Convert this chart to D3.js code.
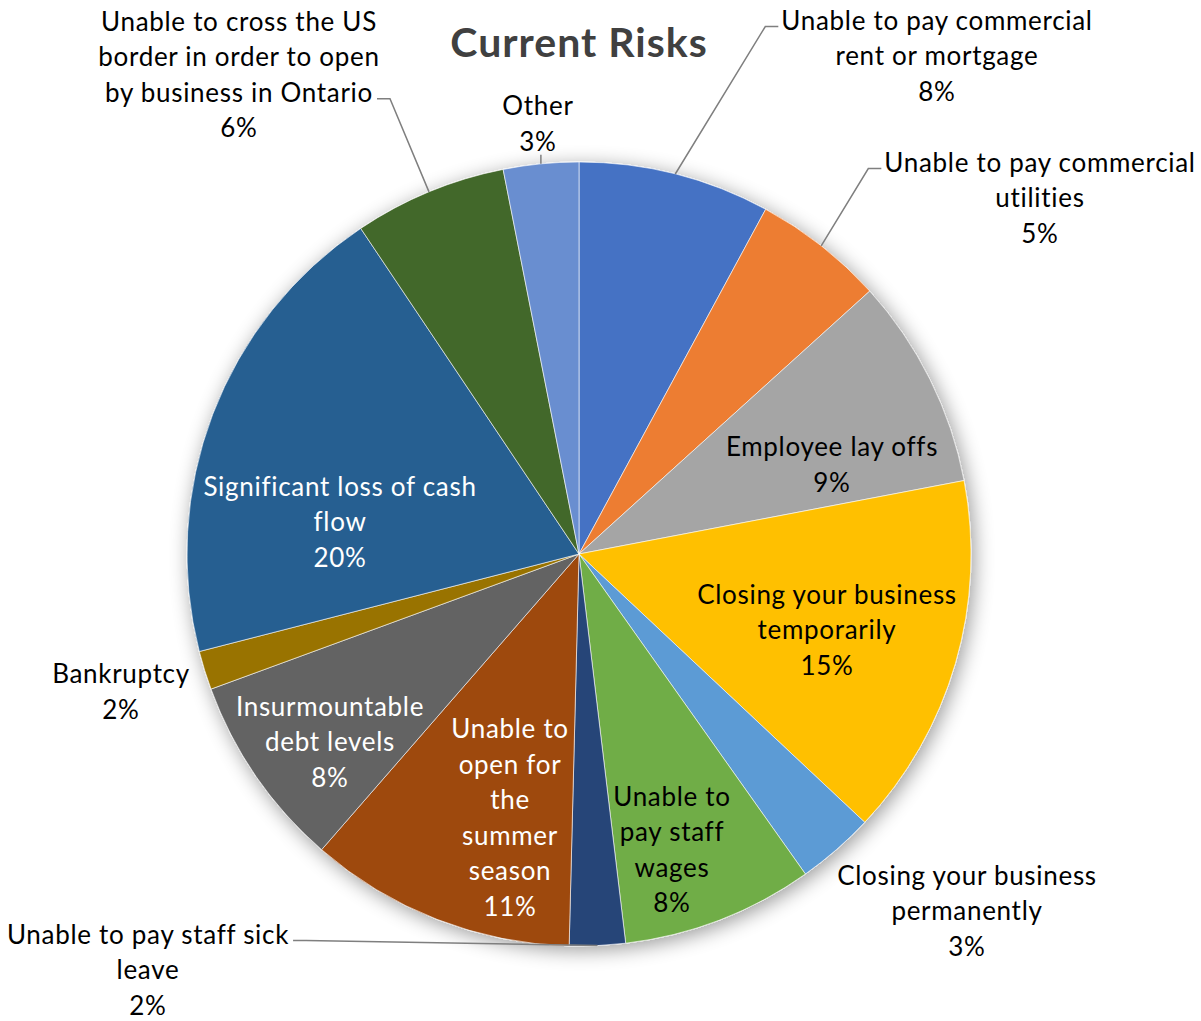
<!DOCTYPE html>
<html>
<head>
<meta charset="utf-8">
<script src="https://cdn.jsdelivr.net/npm/d3@7"></script>
<style>
  html, body { margin: 0; padding: 0; background: #fff; }
  svg { display: block; font-family: Lato, "Open Sans", sans-serif; }
</style>
</head>
<body>
<svg id="chart" width="1201" height="1021"></svg>
<script>
'use strict';

// categories, clockwise from 12 o'clock
const categories = [
  'Unable to pay commercial rent or mortgage',
  'Unable to pay commercial utilities',
  'Employee lay offs',
  'Closing your business temporarily',
  'Closing your business permanently',
  'Unable to pay staff wages',
  'Unable to pay staff sick leave',
  'Unable to open for the summer season',
  'Insurmountable debt levels',
  'Bankruptcy',
  'Significant loss of cash flow',
  'Unable to cross the US border in order to open by business in Ontario',
  'Other'
];

// share of responses (%)
const values = [7.9, 5.4, 8.7, 15, 3.2, 7.9, 2.3, 11, 8, 1.6, 19.6, 6.3, 3.1];

// how each label wraps in the original
const labelLines = [
  ['Unable to pay commercial', 'rent or mortgage'],
  ['Unable to pay commercial', 'utilities'],
  ['Employee lay offs'],
  ['Closing your business', 'temporarily'],
  ['Closing your business', 'permanently'],
  ['Unable to', 'pay staff', 'wages'],
  ['Unable to pay staff sick', 'leave'],
  ['Unable to', 'open for', 'the', 'summer', 'season'],
  ['Insurmountable', 'debt levels'],
  ['Bankruptcy'],
  ['Significant loss of cash', 'flow'],
  ['Unable to cross the US', 'border in order to open', 'by business in Ontario'],
  ['Other']
];

const colors = ['#4472C4', '#ED7D31', '#A5A5A5', '#FFC000', '#5B9BD5', '#70AD47',
  '#264478', '#9E480E', '#636363', '#997300', '#255E91', '#43682B', '#698ED0'];

const width = 1201;
const height = 1021;
const cx = 579;
const cy = 554;
const radius = 392;
const lineH = 35.5;

// label block centre relative to pie centre, text colour and leader side
const placement = [
  { dx: 358, dy: -499, fill: '#000', leader: 'left' },
  { dx: 461, dy: -357, fill: '#000', leader: 'left' },
  { dx: 253, dy: -90, fill: '#000' },
  { dx: 248, dy: 75, fill: '#000' },
  { dx: 388, dy: 356, fill: '#000' },
  { dx: 93, dy: 295, fill: '#000' },
  { dx: -431, dy: 415, fill: '#000', leader: 'right' },
  { dx: -69, dy: 263, fill: '#fff' },
  { dx: -249, dy: 187, fill: '#fff' },
  { dx: -458, dy: 137, fill: '#000' },
  { dx: -239, dy: -33, fill: '#fff' },
  { dx: -340, dy: -480, fill: '#000', leader: 'right', line: 2 },
  { dx: -41, dy: -431, fill: '#000', leader: 'bottom' }
];

const data = categories.map((name, i) => ({
  name: name,
  value: values[i],
  lines: labelLines[i],
  color: colors[i],
  place: placement[i]
}));

const total = d3.sum(values);
const fmtPct = d3.format('.0%');

const svg = d3.select('#chart');

const defs = svg.append('defs');
const shadow = defs.append('filter')
  .attr('id', 'shadow')
  .attr('x', '-20%').attr('y', '-20%')
  .attr('width', '140%').attr('height', '140%');
shadow.append('feGaussianBlur').attr('in', 'SourceAlpha').attr('stdDeviation', 10);
shadow.append('feOffset').attr('dx', 3).attr('dy', 4).attr('result', 'blur');
shadow.append('feComponentTransfer')
  .append('feFuncA').attr('type', 'linear').attr('slope', 0.4);
const merge = shadow.append('feMerge');
merge.append('feMergeNode');
merge.append('feMergeNode').attr('in', 'SourceGraphic');

// title
svg.append('text')
  .attr('x', cx)
  .attr('y', 57)
  .attr('text-anchor', 'middle')
  .attr('font-size', 41)
  .attr('letter-spacing', 1)
  .attr('font-weight', 'bold')
  .attr('fill', '#404040')
  .text('Current Risks');

const pie = d3.pie().value(d => d.value).sort(null);
const arc = d3.arc().innerRadius(0).outerRadius(radius);
const arcs = pie(data);

const g = svg.append('g').attr('transform', `translate(${cx},${cy})`);

g.append('g')
  .attr('filter', 'url(#shadow)')
  .selectAll('path')
  .data(arcs)
  .join('path')
  .attr('d', arc)
  .attr('fill', d => d.data.color)
  .attr('stroke', '#fff')
  .attr('stroke-opacity', 0.6)
  .attr('stroke-width', 1);

const leaders = g.append('g');
const labels = g.append('g');

arcs.forEach(d => {
  const p = d.data.place;
  const lines = d.data.lines.concat(fmtPct(d.data.value / total));
  const top = p.dy - (lines.length - 1) * lineH / 2;

  const text = labels.append('text')
    .attr('text-anchor', 'middle')
    .attr('font-size', 26)
    .attr('letter-spacing', 0.7)
    .attr('fill', p.fill);

  const spans = lines.map((s, i) => text.append('tspan')
    .attr('x', p.dx)
    .attr('y', top + i * lineH)
    .attr('dominant-baseline', 'central')
    .text(s));

  if (!p.leader) return;

  const mid = (d.startAngle + d.endAngle) / 2;
  const start = d3.pointRadial(mid, radius);
  const li = p.line || 0;
  const w = spans[li].node().getComputedTextLength();
  let pts;
  if (p.leader === 'bottom') {
    const yb = top + (lines.length - 1) * lineH + 14;
    pts = [start, [start[0], yb]];
  } else {
    const y = top + li * lineH + 7;
    const x = p.leader === 'left' ? p.dx - w / 2 - 3 : p.dx + w / 2 + 4;
    const elbow = p.leader === 'left' ? x - 13 : x + 13;
    pts = [start, [elbow, y], [x, y]];
  }
  leaders.append('path')
    .attr('d', d3.line()(pts))
    .attr('fill', 'none')
    .attr('stroke', '#7f7f7f')
    .attr('stroke-width', 1.5);
});
</script>
</body>
</html>
